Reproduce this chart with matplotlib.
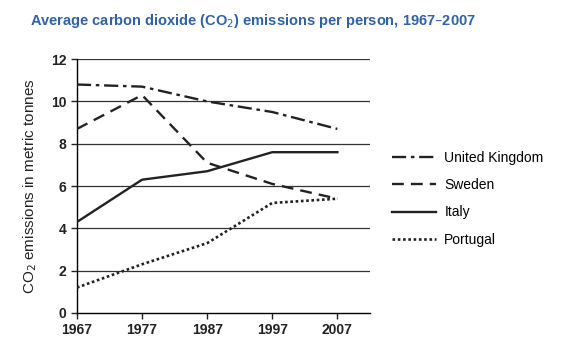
import matplotlib.pyplot as plt

plt.rcParams['font.family'] = ['Liberation Sans', 'DejaVu Sans']

years = [1967, 1977, 1987, 1997, 2007]
uk = [10.8, 10.7, 10.0, 9.5, 8.7]
sweden = [8.7, 10.3, 7.1, 6.1, 5.4]
italy = [4.3, 6.3, 6.7, 7.6, 7.6]
portugal = [1.2, 2.3, 3.3, 5.2, 5.4]

fig = plt.figure(figsize=(5.7, 3.52), dpi=100)
ax = fig.add_axes([0.135, 0.111, 0.514, 0.721])

# horizontal grid at every even value
for yv in range(2, 13, 2):
    ax.axhline(yv, color='#333333', linewidth=0.9, zorder=1)

ax.plot(years, uk, color='#222222', linewidth=1.7, linestyle=(0, (6, 2, 1.5, 2)), label='United Kingdom', zorder=3)
ax.plot(years, sweden, color='#222222', linewidth=1.7, linestyle=(0, (5, 3)), label='Sweden', zorder=3)
ax.plot(years, italy, color='#222222', linewidth=1.7, linestyle='-', label='Italy', zorder=3)
ax.plot(years, portugal, color='#222222', linewidth=1.9, linestyle=(0, (1, 1)), label='Portugal', zorder=3)

ax.set_xlim(1967, 2012)
ax.set_ylim(0, 12)
ax.set_xticks(years)
ax.set_yticks(range(0, 13, 2))
ax.spines['top'].set_visible(False)
ax.spines['right'].set_visible(False)
ax.spines['left'].set_linewidth(1.0)
ax.spines['bottom'].set_linewidth(1.0)
ax.tick_params(labelsize=10, length=4, width=1.0, colors='#222222')
for lab in ax.get_xticklabels() + ax.get_yticklabels():
    lab.set_fontweight('bold')
ax.set_ylabel('CO$_2$ emissions in metric tonnes', fontsize=11, color='#222222', labelpad=9)

fig.text(0.053, 0.94, 'Average carbon dioxide (CO$_2$) emissions per person, 1967\u20132007',
         fontsize=10.5, fontweight='bold', color='#2f62a8', ha='left', va='center')

fig.legend(loc='center left', bbox_to_anchor=(0.665, 0.435), frameon=False, fontsize=10,
           handlelength=3.2, labelspacing=0.95, handletextpad=0.6)

fig.savefig('out.png', dpi=100, facecolor='white')
